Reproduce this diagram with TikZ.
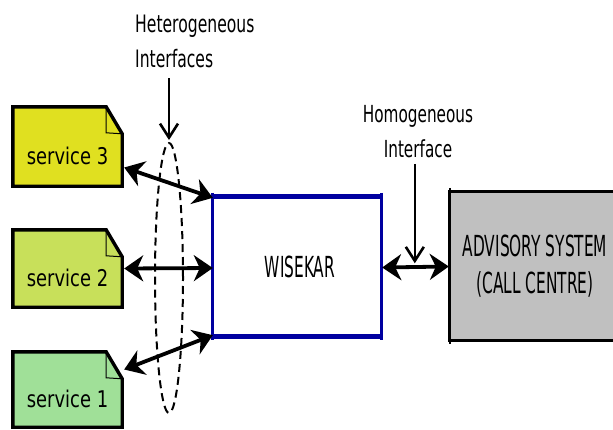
\documentclass[tikz,border=0pt]{standalone}
\usepackage{fontspec}
% narrow label faces
\newfontfamily\capsfont[FakeStretch=0.53]{DejaVu Sans}
\newfontfamily\notefont[FakeStretch=0.65]{DejaVu Sans}
\newfontfamily\svcfont[FakeStretch=0.78]{DejaVu Sans}
\usetikzlibrary{arrows.meta,shapes.geometric,backgrounds,calc}

\definecolor{svcthree}{HTML}{E0E020}
\definecolor{svctwo}{HTML}{C8E05A}
\definecolor{svcone}{HTML}{A0E098}
\definecolor{wkblue}{HTML}{0000A0}
\definecolor{advgray}{HTML}{C0C0C0}

\begin{document}
\begin{tikzpicture}[x=1pt,y=-1pt,
  svc/.style={minimum width=109pt, inner sep=0pt, text height=40pt, text depth=5pt,
    font=\svcfont\fontsize{23}{28}\selectfont},
  svcedge/.style={draw=black, line width=3.4pt, line join=miter},
  fold/.style={draw=black, line width=1pt},
  bighead/.tip={Stealth[length=19pt,width=26pt,inset=6pt]},
  dblarrow/.style={line width=3.8pt, bighead-bighead},
  pointer/.style={line width=2.6pt, -{Straight Barb[length=14pt,width=18pt]}},
  note/.style={inner sep=0pt, font=\notefont\fontsize{24}{35}\selectfont},
  bigcaps/.style={inner sep=0pt, font=\capsfont\fontsize{29}{37}\selectfont, align=center}
]
\useasboundingbox (0,0) rectangle (613,429);

% service documents
\node[svc, minimum height=79pt] (s3) at (67.5,146.5) {service 3};
\node[svc, minimum height=77pt] (s2) at (67.5,268.5) {service 2};
\node[svc, minimum height=75pt] (s1) at (67.5,389.5) {service 1};

\begin{scope}[on background layer]
  \foreach \s/\c in {s3/svcthree, s2/svctwo, s1/svcone}{
    \path[svcedge, fill=\c]
      (\s.north west) -- ([xshift=-16pt]\s.north east)
      -- ([yshift=-27pt]\s.north east) -- (\s.south east)
      -- (\s.south west) -- cycle;
    \draw[fold] ([xshift=-16pt]\s.north east) -- ([xshift=-16pt,yshift=-26pt]\s.north east)
      -- ([yshift=-27pt]\s.north east);
  }
\end{scope}

% central WISEKAR box
\node[inner sep=0pt, minimum width=168pt, minimum height=139pt,
      font=\capsfont\fontsize{29}{35}\selectfont] (wk) at (297,266.5) {\hspace*{6pt}WISEKAR};
\draw[wkblue, line width=3pt]
  ([yshift=4pt]wk.north west) -- ([yshift=-4pt]wk.south west)
  ([yshift=4pt]wk.north east) -- ([yshift=-4pt]wk.south east);
\draw[wkblue, line width=5pt]
  (wk.north west) -- (wk.north east)
  (wk.south west) -- (wk.south east);

% advisory system box
\node[bigcaps, minimum width=170pt, minimum height=148pt] (adv) at (535,266)
  {ADVISORY SYSTEM\\(CALL CENTRE)};
\begin{scope}[on background layer]
  \fill[advgray] (adv.north west) rectangle (adv.south east);
\end{scope}
\draw[line width=3pt]
  (adv.north east) -- (adv.north west) -- (adv.south west) -- (adv.south east);
\draw[line width=2pt]
  ([yshift=4pt]adv.north west) -- ([yshift=-4pt]adv.south west);

% heterogeneous interface region
\node[ellipse, draw, dashed, dash pattern=on 8pt off 5pt, line width=2pt,
      minimum width=28pt, minimum height=270pt, inner sep=0pt] (ell) at (169,278) {};

% connectors
\draw[dblarrow] ([xshift=2pt,yshift=-21pt]s3.east) -- ([yshift=-1pt]wk.north west);
\draw[dblarrow] ([xshift=2pt]s2.east) -- ([yshift=-1.5pt]wk.west);
\draw[dblarrow] ([xshift=2pt,yshift=20pt]s1.east) -- ([yshift=1pt]wk.south west);
\draw[dblarrow] ([xshift=1pt,yshift=-1pt]wk.east) -- ([xshift=-1pt]adv.west |- wk.east);
\coordinate (hm) at ($(wk.east)!0.49!(adv.west)$);

% labels
\node[note, anchor=north west, align=left] (hetero) at (135,15)
  {Heterogeneous\\Interfaces};
\node[note, anchor=north, align=center, font=\notefont\fontsize{23.5}{35}\selectfont] (homo) at (418,105)
  {Homogeneous\\Interface};

\draw[pointer] ([yshift=-10pt]hetero.south west -| ell.north) -- ([yshift=2pt]ell.north);
\draw[pointer] ([yshift=-6pt]homo.south -| hm) -- ([yshift=3pt]hm);
\end{tikzpicture}
\end{document}
